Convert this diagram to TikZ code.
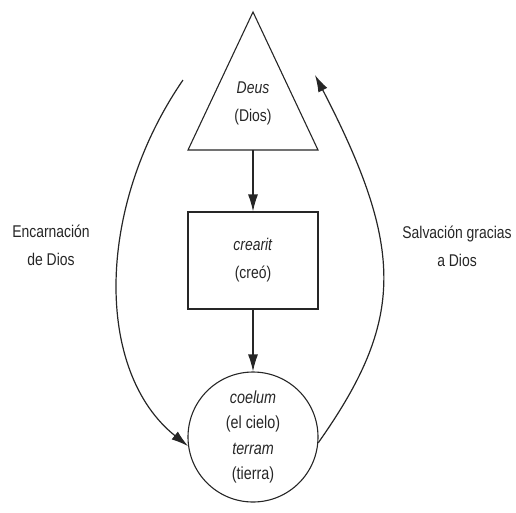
\documentclass[tikz,border=0pt]{standalone}
\usepackage{fontspec}
\setmainfont[FakeStretch=0.82]{Liberation Sans}
\usetikzlibrary{arrows.meta}
\begin{document}
\begin{tikzpicture}[x=1pt,y=-1pt,
  shapeline/.style={draw=black!85,line width=1.1pt},
  conn/.style={draw=black!85,line width=1.2pt,-{Latex[length=17pt,width=10pt]}},
  txt/.style={align=center,inner sep=0pt,text=black!85,font=\fontsize{17}{28}\selectfont},
  circtxt/.style={align=center,inner sep=0pt,text=black!85,font=\fontsize{17.5}{25.3}\selectfont}]
\useasboundingbox (0,0) rectangle (516,512);
% triangle
\coordinate (apex) at (253,12);
\coordinate (bl) at (188,150);
\coordinate (br) at (318,150);
\coordinate (deusbase) at (253,150);
\draw[shapeline,line join=miter] (apex) -- (bl) -- (br) -- cycle;
\node[txt] (deus) at (253,103) {\textit{Deus}\\(Dios)};
% box
\node[shapeline,txt,minimum width=130pt,minimum height=97pt] (crearit) at (253,260.5) {\textit{crearit}\\(creó)};
% circle
\node[shapeline,circle,circtxt,minimum size=130pt] (coelum) at (253,437) {\textit{coelum}\\(el cielo)\\\textit{terram}\\(tierra)};
% arrows
\draw[conn] (deusbase) -- (crearit.north);
\draw[conn] (crearit.south) -- (coelum.north);
\coordinate (lstart) at (183,80);
\coordinate (rend) at (315,75);
\draw[conn] (lstart) .. controls (95,208) and (95,372) .. (coelum.188);
\draw[conn] (coelum.-5) .. controls (405,320) and (405,249) .. (rend);
% labels
\node[txt] (lab1) at (51,245) {Encarnación\\de Dios};
\node[txt] (lab2) at (457,246) {Salvación gracias\\a Dios};
\end{tikzpicture}
\end{document}
